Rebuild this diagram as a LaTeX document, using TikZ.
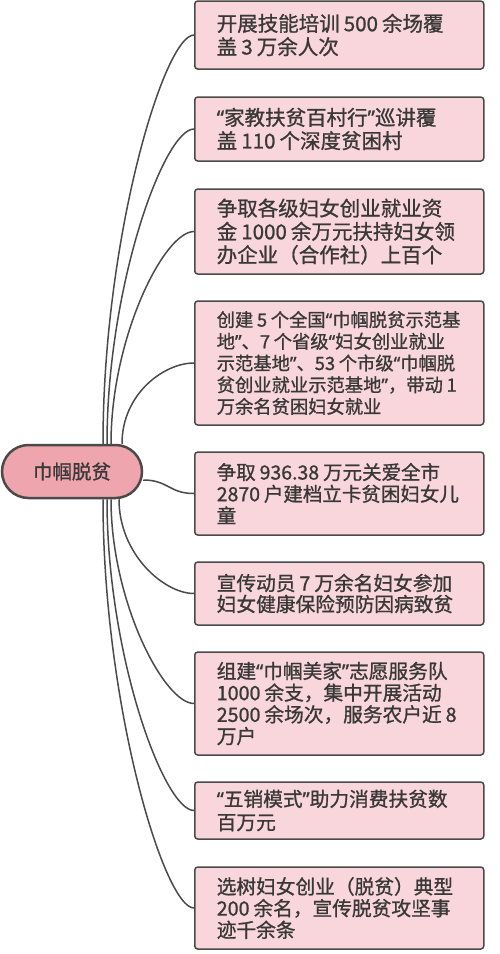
\documentclass[tikz,border=0pt]{standalone}
\usepackage{fontspec}
\newfontfamily\cjk{Noto Sans CJK SC}[FakeBold=1]
\newfontfamily\qfont{Noto Sans}[FakeBold=1]
\usetikzlibrary{backgrounds}
\definecolor{edge}{HTML}{4A4A4A}
\definecolor{boxfill}{HTML}{F9D6DB}
\definecolor{rootfill}{HTML}{EFA5AD}
\definecolor{txt}{HTML}{383838}
\newcommand\gp{\kern0.2em\relax}
\newcommand\oq{{\qfont “}}
\newcommand\cq{{\qfont ”}}
\begin{document}
\begin{tikzpicture}[x=1pt,y=-1pt,
  itembox/.style 2 args={draw=edge, line width=1.5pt, fill=boxfill, rounded corners=3pt,
    anchor=west, text width=245pt, inner xsep=22pt, inner ysep=0pt, align=left,
    text=txt, font=\cjk\fontsize{#1}{#2}\selectfont},
  rootbox/.style={draw=edge, line width=2.5pt, fill=rootfill, rounded corners=26.5pt,
    minimum width=140pt, minimum height=53pt, inner sep=0pt, text=txt,
    font=\cjk\fontsize{19.5}{22}\selectfont},
  conn/.style={draw=edge, line width=1.5pt}
]
\useasboundingbox (0,0) rectangle (500,954);

\node[rootbox] (root) at (72,471.5) {巾帼脱贫};

\node[itembox={20.5}{23.3}, minimum height=68pt] (b1) at (194,35) {开展技能培训\gp{}500\gp{}余场覆\\盖\gp{}3\gp{}万余人次};
\node[itembox={20.5}{23.3}, minimum height=64pt] (b2) at (194,129) {\oq{}家教扶贫百村行\cq{}巡讲覆\\盖\gp{}110\gp{}个深度贫困村};
\node[itembox={20.5}{23.3}, minimum height=85pt] (b3) at (194,231.5) {争取各级妇女创业就业资\\金\gp{}1000\gp{}余万元扶持妇女领\\办企业（合作社）上百个};
\node[itembox={18.3}{21.7}, minimum height=124pt] (b4) at (194,363) {创建\gp{}5\gp{}个全国\oq{}巾帼脱贫示范基\\地\cq{}、7\gp{}个省级\oq{}妇女创业就业\\示范基地\cq{}、53\gp{}个市级\oq{}巾帼脱\\贫创业就业示范基地\cq{}，带动\gp{}1\\万余名贫困妇女就业};
\node[itembox={19.5}{21.7}, minimum height=83pt] (b5) at (194,493.5) {争取\gp{}936.38\gp{}万元关爱全市\\2870\gp{}户建档立卡贫困妇女儿\\童};
\node[itembox={19.7}{21}, minimum height=63pt] (b6) at (194,593.5) {宣传动员\gp{}7\gp{}万余名妇女参加\\妇女健康保险预防因病致贫};
\node[itembox={19.7}{21.7}, minimum height=103pt] (b7) at (194,703.5) {组建\oq{}巾帼美家\cq{}志愿服务队\\1000\gp{}余支，集中开展活动\\2500\gp{}余场次，服务农户近\gp{}8\\万户};
\node[itembox={19.7}{23.3}, minimum height=57pt] (b8) at (194,810.5) {\oq{}五销模式\cq{}助力消费扶贫数\\百万元};
\node[itembox={19.7}{21.7}, minimum height=82pt] (b9) at (194,908) {选树妇女创业（脱贫）典型\\200\gp{}余名，宣传脱贫攻坚事\\迹千余条};

\begin{scope}[on background layer]
\draw[conn] ([xshift=31pt]root.north) .. controls +(0,-204.5) and +(-30,0) .. (b1.west);
\draw[conn] ([xshift=35pt]root.north) .. controls +(0,-157.5) and +(-30,0) .. (b2.west);
\draw[conn] ([xshift=39pt]root.north) .. controls +(0,-106) and +(-30,0) .. (b3.west);
\draw[conn] ([xshift=50pt]root.north) .. controls +(0,-50) and +(-30,0) .. (b4.west);
\draw[conn] ([yshift=-8.5pt]root.east) .. controls +(25,0) and +(-25,0) .. (b5.west);
\draw[conn] ([xshift=47pt]root.south) .. controls +(0,55) and +(-30,0) .. (b6.west);
\draw[conn] ([xshift=39pt]root.south) .. controls +(0,102) and +(-30,0) .. (b7.west);
\draw[conn] ([xshift=35pt]root.south) .. controls +(0,156) and +(-30,0) .. (b8.west);
\draw[conn] ([xshift=31pt]root.south) .. controls +(0,204.5) and +(-30,0) .. (b9.west);
\end{scope}
\end{tikzpicture}
\end{document}
